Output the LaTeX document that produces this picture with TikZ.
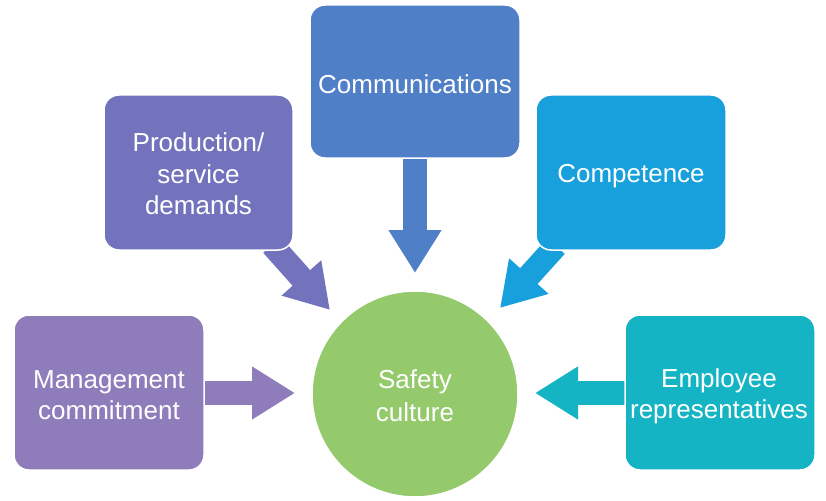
\documentclass[tikz,border=0pt]{standalone}
\usepackage{fontspec}
\setmainfont{Liberation Sans}
\usetikzlibrary{arrows.meta}
\pgfdeclarelayer{bg}
\pgfsetlayers{bg,main}
\definecolor{cmgmt}{HTML}{8F7CBB}
\definecolor{cprod}{HTML}{7373BD}
\definecolor{ccomm}{HTML}{4F7FC6}
\definecolor{ccomp}{HTML}{17A0DB}
\definecolor{cempl}{HTML}{14B4C4}
\definecolor{csafe}{HTML}{94C96C}
\tikzset{
  factorbox/.style={draw=white, line width=1.5pt, rounded corners=15pt, minimum width=190pt, minimum height=155pt,
    inner sep=0pt},
  boxtext/.style={align=center, text=white, font=\fontsize{26}{31.5}\selectfont, inner sep=0pt},
  blockarrow/.style={line width=23.5pt, -{Triangle[length=43pt,width=50pt]}}
}
\begin{document}
\begin{tikzpicture}[x=1pt,y=-1pt]
\useasboundingbox (0,0) rectangle (826,500);
\node[factorbox, fill=cmgmt] (mgmt) at (109,392.5) {};
\node[boxtext] (mgmtt) at (109,395) {Management\\commitment};
\node[factorbox, fill=cprod, minimum width=189pt] (prod) at (198.5,172.5) {};
\node[boxtext] (prodt) at (198.5,174) {Production/\\service\\demands};
\node[factorbox, fill=ccomm, minimum width=210pt, minimum height=153pt] (comm) at (415,81.5) {};
\node[boxtext] (commt) at (415,84) {Communications};
\node[factorbox, fill=ccomp] (comp) at (631,172.5) {};
\node[boxtext] (compt) at (631,176) {Competence};
\node[factorbox, fill=cempl] (empl) at (720,392.5) {};
\node[boxtext] (emplt) at (719,396.5) {Employee\\representatives};
\node[circle, fill=csafe, draw=white, line width=1.5pt, minimum size=206pt, inner sep=0pt] (safe) at (415,394) {};
\node[boxtext, font=\fontsize{26}{33}\selectfont] (safet) at (415,396) {Safety\\culture};
\coordinate (m1) at (203,393); \coordinate (m2) at (295,393);
\coordinate (e1) at (627,393); \coordinate (e2) at (535,393);
\coordinate (c1) at (415,156); \coordinate (c2) at (415,273);
\coordinate (p1) at (272,245); \coordinate (p2) at (330,310);
\coordinate (k1) at (556,246); \coordinate (k2) at (500,308);
\begin{pgfonlayer}{bg}
\draw[blockarrow, draw=cmgmt, fill=cmgmt] (m1) -- (m2);
\draw[blockarrow, draw=cempl, fill=cempl] (e1) -- (e2);
\draw[blockarrow, draw=ccomm, fill=ccomm] (c1) -- (c2);
\draw[blockarrow, draw=cprod, fill=cprod] (p1) -- (p2);
\draw[blockarrow, draw=ccomp, fill=ccomp] (k1) -- (k2);
\end{pgfonlayer}
\end{tikzpicture}
\end{document}
